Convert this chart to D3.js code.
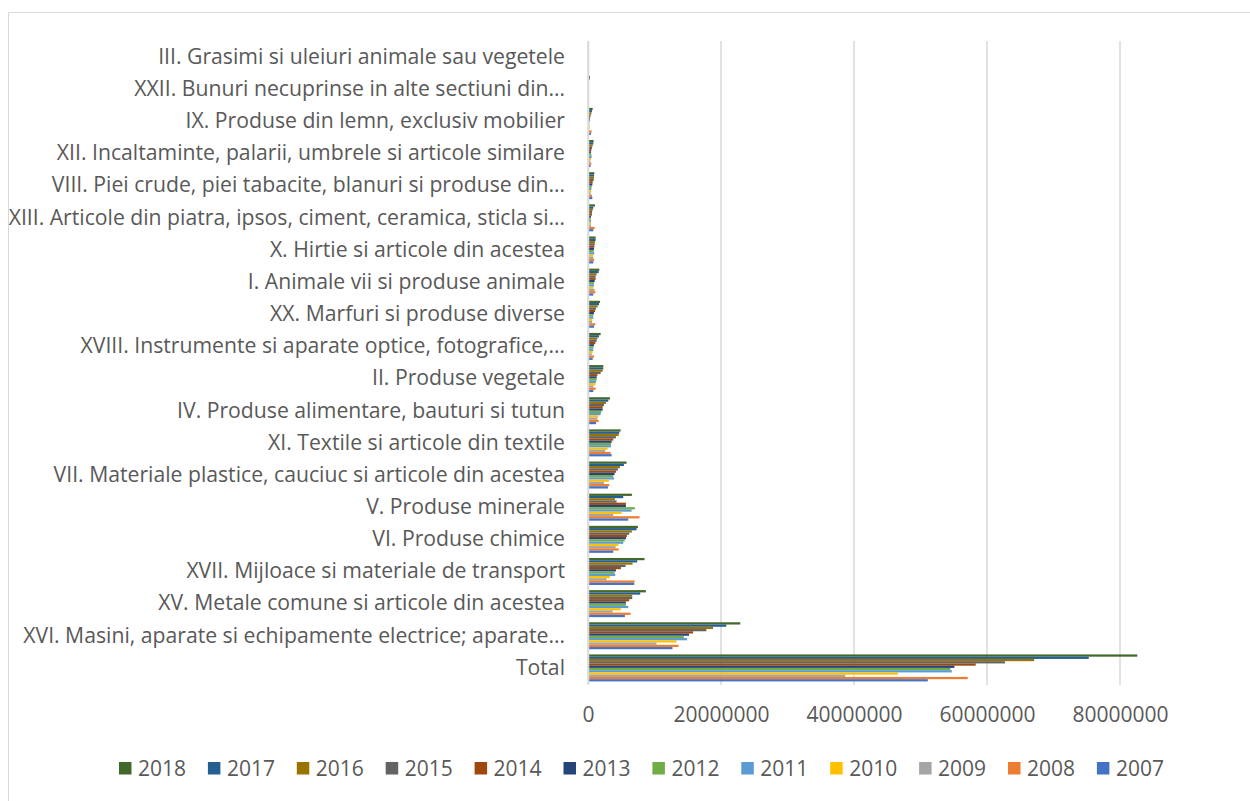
<!DOCTYPE html>
<html><head><meta charset="utf-8">
<script src="https://cdn.jsdelivr.net/npm/d3@7"></script>
<style>body{margin:0;background:#fff;}svg{display:block;}</style>
</head><body>
<svg id="c" width="1250" height="801"></svg>
<script>
const categories = [
 "III. Grasimi si uleiuri animale sau vegetele",
 "XXII. Bunuri necuprinse in alte sectiuni din…",
 "IX. Produse din lemn, exclusiv mobilier",
 "XII. Incaltaminte, palarii, umbrele si articole similare",
 "VIII. Piei crude, piei tabacite, blanuri si produse din…",
 "XIII. Articole din piatra, ipsos, ciment, ceramica, sticla si…",
 "X. Hirtie si articole din acestea",
 "I. Animale vii si produse animale",
 "XX. Marfuri si produse diverse",
 "XVIII. Instrumente si aparate optice, fotografice,…",
 "II. Produse vegetale",
 "IV. Produse alimentare, bauturi si tutun",
 "XI. Textile si articole din textile",
 "VII. Materiale plastice, cauciuc si articole din acestea",
 "V. Produse minerale",
 "VI. Produse chimice",
 "XVII. Mijloace si materiale de transport",
 "XV. Metale comune si articole din acestea",
 "XVI. Masini, aparate si echipamente electrice; aparate…",
 "Total"
];
const years = ["2018","2017","2016","2015","2014","2013","2012","2011","2010","2009","2008","2007"];
const colors = ["#43682B","#255E91","#997300","#636363","#9E480E","#264478","#70AD47","#5B9BD5","#FFC000","#A5A5A5","#ED7D31","#4472C4"];
// values in millions, per category, ordered as years (2018 ... 2007)
const v_III   = [0.15,0.12,0.12,0.1,0.1,0.1,0.1,0.12,0.1,0.1,0.12,0.1];
const v_XXII  = [0.3,0.25,0.15,0.1,0.1,0.1,0.1,0.1,0.1,0.1,0.1,0.1];
const v_IX    = [0.7,0.6,0.5,0.4,0.3,0.25,0.2,0.2,0.25,0.2,0.55,0.45];
const v_XII   = [0.85,0.8,0.7,0.6,0.5,0.45,0.5,0.55,0.45,0.35,0.5,0.4];
const v_VIII  = [0.95,0.9,0.9,0.85,0.7,0.65,0.55,0.5,0.5,0.4,0.6,0.65];
const v_XIII  = [1.05,0.8,0.7,0.6,0.6,0.45,0.4,0.45,0.45,0.45,1.0,0.8];
const v_X     = [1.15,1.15,1.05,1.0,0.95,0.9,0.85,0.95,0.8,0.8,0.9,0.8];
const v_I     = [1.7,1.6,1.3,1.15,1.15,1.0,0.9,0.9,0.8,1.0,1.1,0.8];
const v_XX    = [1.8,1.65,1.45,1.2,1.05,0.9,0.8,0.8,0.65,0.6,1.1,0.9];
const v_XVIII = [1.9,1.65,1.4,1.3,1.1,0.9,0.8,0.8,0.7,0.55,0.9,0.7];
const v_II    = [2.3,2.3,2.2,1.9,1.4,1.3,1.3,1.2,1.1,0.8,1.15,0.8];
const v_IV    = [3.3,3.05,2.7,2.4,2.2,2.2,2.0,1.9,1.55,1.4,1.6,1.2];
const v_XI    = [4.9,4.7,4.6,4.2,3.8,3.55,3.45,3.45,2.95,2.6,3.4,3.55];
const v_VII   = [5.8,5.4,4.8,4.5,4.2,4.0,3.8,3.9,3.15,2.4,3.2,3.0];
const v_V     = [6.6,5.3,4.05,4.3,5.7,5.7,7.05,6.55,5.05,3.8,7.75,6.05];
const v_VI    = [7.5,7.3,6.6,6.2,5.85,5.7,5.5,5.3,4.55,4.15,4.6,3.8];
const v_XVII  = [8.5,7.4,6.7,5.65,4.95,4.2,4.0,4.1,3.3,2.8,7.0,6.95];
const v_XV    = [8.7,7.85,6.65,6.65,6.2,5.7,5.7,6.05,4.95,3.7,6.4,5.55];
const v_XVI   = [22.9,20.8,18.8,17.8,15.8,15.2,14.4,14.9,13.3,10.3,13.6,12.7];
const v_Total = [82.6,75.3,67.1,62.7,58.3,55.1,54.5,54.7,46.6,38.7,57.1,51.1];
const values = [v_III,v_XXII,v_IX,v_XII,v_VIII,v_XIII,v_X,v_I,v_XX,v_XVIII,v_II,v_IV,v_XI,v_VII,v_V,v_VI,v_XVII,v_XV,v_XVI,v_Total];
const ticks = [0,20000000,40000000,60000000,80000000];

const svg = d3.select("#c");
const font = "'Open Sans', 'Noto Sans', sans-serif";
svg.append("rect").attr("x",8.5).attr("y",12.5).attr("width",1260).attr("height",800)
  .attr("fill","#fff").attr("stroke","#d9d9d9").attr("stroke-width",1);

const x = d3.scaleLinear().domain([0,80000000]).range([588,1120]);
const y = d3.scaleBand().domain(categories).range([41,684]).paddingInner(0.16).paddingOuter(0.08);
const yi = d3.scaleBand().domain(years).range([0,y.bandwidth()]);

// gridlines
svg.append("g").selectAll("line").data(ticks).join("line")
  .attr("x1",d=>x(d)).attr("x2",d=>x(d)).attr("y1",41).attr("y2",685)
  .attr("stroke","#d9d9d9").attr("stroke-width",1.5);

// bars
const g = svg.append("g");
categories.forEach((c,ci)=>{
  g.append("g").attr("transform",`translate(0,${y(c)})`)
   .selectAll("rect").data(years.map((yr,i)=>({yr,v:values[ci][i]*1e6,col:colors[i]})))
   .join("rect")
   .attr("x",x(0)).attr("y",d=>yi(d.yr)).attr("height",yi.bandwidth())
   .attr("width",d=>x(d.v)-x(0)).attr("fill",d=>d.col);
});

// category axis
const ay = d3.axisLeft(y).tickSize(0).tickPadding(23);
const gy = svg.append("g").attr("transform","translate(588,0)").call(ay);
gy.select(".domain").attr("stroke","#d9d9d9").attr("stroke-width",1.5);
gy.selectAll("text").attr("font-family",font).attr("font-size",21.2).attr("fill","#595959");

// value axis
const ax = d3.axisBottom(x).tickValues(ticks).tickFormat(d3.format("d")).tickSize(0).tickPadding(0);
const gx = svg.append("g").attr("transform","translate(0,707)").call(ax);
gx.select(".domain").remove();
gx.selectAll("text").attr("font-family",font).attr("font-size",21).attr("fill","#595959").attr("dy","0.71em");

// legend
const lg = svg.append("g").attr("transform","translate(119,762)");
const items = lg.selectAll("g").data(years).join("g").attr("transform",(d,i)=>`translate(${i*88.9},0)`);
items.append("rect").attr("width",12.5).attr("height",12.5).attr("fill",(d,i)=>colors[i]);
items.append("text").attr("x",19).attr("y",6.5).attr("dy","0.35em").text(d=>d)
  .attr("font-family",font).attr("font-size",21).attr("fill","#595959");
</script>
</body></html>
